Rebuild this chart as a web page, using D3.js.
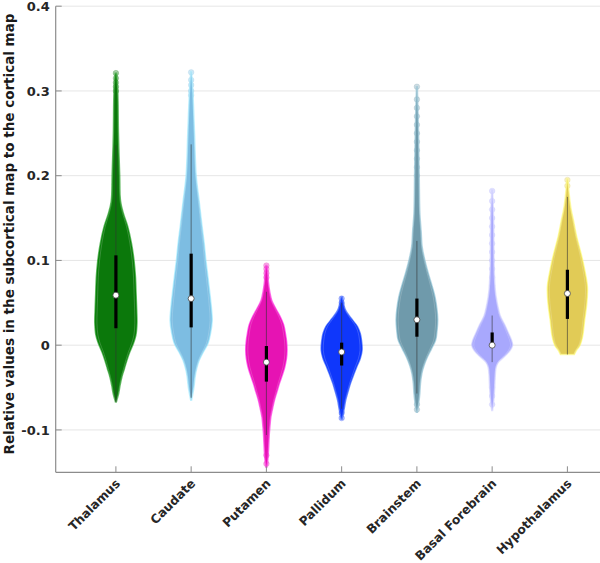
<!DOCTYPE html>
<html><head><meta charset="utf-8">
<script src="https://cdn.jsdelivr.net/npm/d3@7"></script>
<style>html,body{margin:0;padding:0;background:#fff;}svg{display:block;font-family:"DejaVu Sans",sans-serif;}</style>
</head><body><svg id="chart" width="600" height="563"></svg>
<script>
const categories = ["Thalamus","Caudate","Putamen","Pallidum","Brainstem","Basal Forebrain","Hypothalamus"];
const colors = ["#0b780b","#7dbde2","#e613b3","#0f37fb","#6f9aab","#a8a8fd","#e1cb56"];
const yTicks = [-0.1, 0, 0.1, 0.2, 0.3, 0.4];
const yTickLabels = ["-0.1","0","0.1","0.2","0.3","0.4"];
const medians = [0.059, 0.055, -0.020, -0.008, 0.030, 0.000, 0.061];
const q1 = [0.020, 0.021, -0.043, -0.024, 0.010, 0.000, 0.031];
const q3 = [0.106, 0.108, -0.001, 0.003, 0.055, 0.015, 0.089];
const whiskerLo = [-0.067, -0.062, -0.106, -0.075, -0.057, -0.020, -0.011];
const whiskerHi = [0.236, 0.237, 0.063, 0.050, 0.123, 0.035, 0.175];
// density profiles: [value, relative density]
const profiles = [
 [[0.321,0.03],[0.30,0.09],[0.25,0.12],[0.2,0.18],[0.17,0.22],[0.155,0.36],[0.14,0.56],[0.12,0.74],[0.1,0.86],[0.08,0.93],[0.06,0.96],[0.04,0.99],[0.026,1.0],[0.012,0.95],[0.002,0.83],[-0.008,0.66],[-0.018,0.52],[-0.028,0.4],[-0.037,0.29],[-0.047,0.2],[-0.057,0.13],[-0.067,0.02]],
 [[0.323,0.02],[0.30,0.08],[0.25,0.16],[0.2,0.24],[0.17,0.38],[0.14,0.52],[0.12,0.62],[0.1,0.7],[0.08,0.8],[0.061,0.89],[0.045,0.96],[0.029,1.0],[0.015,0.93],[0.002,0.8],[-0.008,0.58],[-0.018,0.38],[-0.028,0.26],[-0.037,0.19],[-0.05,0.13],[-0.065,0.02]],
 [[0.094,0.02],[0.085,0.06],[0.073,0.1],[0.063,0.16],[0.053,0.25],[0.043,0.45],[0.033,0.67],[0.024,0.82],[0.014,0.9],[0.004,0.96],[-0.006,0.98],[-0.016,0.95],[-0.026,0.87],[-0.035,0.76],[-0.045,0.62],[-0.055,0.5],[-0.065,0.38],[-0.075,0.29],[-0.085,0.21],[-0.095,0.17],[-0.104,0.14],[-0.124,0.1],[-0.135,0.07],[-0.144,0.02]],
 [[0.057,0.02],[0.05,0.08],[0.041,0.19],[0.032,0.44],[0.022,0.75],[0.014,0.88],[0.006,0.94],[-0.006,0.97],[-0.016,0.88],[-0.026,0.71],[-0.035,0.57],[-0.045,0.42],[-0.055,0.3],[-0.065,0.19],[-0.075,0.12],[-0.087,0.02]],
 [[0.305,0.02],[0.25,0.08],[0.2,0.11],[0.156,0.14],[0.135,0.2],[0.116,0.25],[0.1,0.38],[0.085,0.54],[0.07,0.72],[0.057,0.86],[0.043,0.95],[0.03,0.99],[0.018,0.96],[0.006,0.89],[-0.004,0.7],[-0.014,0.5],[-0.024,0.34],[-0.033,0.24],[-0.045,0.17],[-0.057,0.14],[-0.068,0.09],[-0.079,0.02]],
 [[0.183,0.02],[0.15,0.07],[0.1,0.09],[0.081,0.11],[0.065,0.15],[0.057,0.19],[0.045,0.28],[0.035,0.38],[0.024,0.6],[0.014,0.78],[0.006,0.92],[0,0.97],[-0.006,0.86],[-0.014,0.56],[-0.02,0.3],[-0.026,0.19],[-0.035,0.15],[-0.05,0.12],[-0.065,0.08],[-0.077,0.02]],
 [[0.196,0.02],[0.185,0.06],[0.175,0.1],[0.16,0.18],[0.148,0.28],[0.128,0.44],[0.108,0.65],[0.089,0.82],[0.069,0.95],[0.049,0.92],[0.03,0.82],[0.01,0.72],[0.0,0.6],[-0.006,0.43],[-0.011,0.33]]
];
const outliers = [
 [0.300,0.305,0.310,0.315,0.321],
 [0.295,0.300,0.307,0.313,0.322],
 [0.080,0.085,0.090,0.094,-0.130,-0.140],
 [0.050,0.055,-0.080,-0.086],
 [0.200,0.210,0.220,0.230,0.240,0.250,0.260,0.270,0.280,0.290,0.305,-0.070,-0.076],
 [0.060,0.070,0.080,0.090,0.100,0.110,0.120,0.130,0.140,0.150,0.160,0.170,0.182,-0.030,-0.040,-0.050,-0.060,-0.070],
 [0.188,0.195]
];
const yLabel = "Relative values in the subcortical map to the cortical map";

const svg = d3.select("#chart");
const x = d3.scaleLinear().domain([0.2, 7.8]).range([55.7, 627.6]);
const y = d3.scaleLinear().domain([-0.15, 0.4]).range([472.3, 6.2]);
const wScale = d3.scaleLinear().domain([0, 1]).range([0, 0.28]); // in x-units

// gridlines
svg.append("g").selectAll("line").data(yTicks).join("line")
  .attr("x1", x(0.2)).attr("x2", 600)
  .attr("y1", d => y(d)).attr("y2", d => y(d))
  .attr("stroke", "#e6e6e6").attr("stroke-width", 1);

// violins
const g = svg.append("g");
categories.forEach((c, i) => {
  const cx = i + 1;
  const area = d3.area()
    .y(d => y(d[0]))
    .x0(d => x(cx - wScale(d[1])))
    .x1(d => x(cx + wScale(d[1])))
    .curve(d3.curveCatmullRom);
  const col = colors[i];
  g.append("g").selectAll("circle").data(outliers[i]).join("circle")
    .attr("cx", x(cx)).attr("cy", d => y(d)).attr("r", 2.8)
    .attr("fill", col).attr("fill-opacity", 0.35)
    .attr("stroke", col).attr("stroke-opacity", 0.2);
  g.append("path").datum(profiles[i]).attr("d", area)
    .attr("fill", col)
    .attr("stroke", d3.color(col).brighter(0.6)).attr("stroke-opacity", 0.6).attr("stroke-width", 1.5);
  const inner = d3.area()
    .y(d => y(d[0]))
    .x0(d => x(cx - wScale(d[1]) * 0.9))
    .x1(d => x(cx + wScale(d[1]) * 0.9))
    .curve(d3.curveCatmullRom);
  g.append("path").datum(profiles[i]).attr("d", inner)
    .attr("fill", "none").attr("stroke", "#ffffff").attr("stroke-opacity", 0.18).attr("stroke-width", 1);
  g.append("line").attr("x1", x(cx)).attr("x2", x(cx))
    .attr("y1", y(whiskerHi[i])).attr("y2", y(whiskerLo[i]))
    .attr("stroke", "#333").attr("stroke-opacity", 0.75).attr("stroke-width", 0.8);
  g.append("rect").attr("x", x(cx) - 1.6).attr("width", 3.2)
    .attr("y", y(q3[i])).attr("height", Math.max(0.5, y(q1[i]) - y(q3[i])))
    .attr("fill", "#000");
  g.append("circle").attr("cx", x(cx)).attr("cy", y(medians[i])).attr("r", 3)
    .attr("fill", "#fff").attr("stroke", "#444").attr("stroke-width", 0.8);
});

// axes
const axisCol = "#8c8c8c";
svg.append("line").attr("x1", x(0.2)).attr("x2", x(0.2)).attr("y1", y(0.4)).attr("y2", y(-0.15))
  .attr("stroke", axisCol).attr("stroke-width", 1.2);
svg.append("line").attr("x1", x(0.2)).attr("x2", 600).attr("y1", y(-0.15)).attr("y2", y(-0.15))
  .attr("stroke", axisCol).attr("stroke-width", 1.2);
svg.append("g").selectAll("line").data(yTicks).join("line")
  .attr("x1", x(0.2)).attr("x2", x(0.2) + 6)
  .attr("y1", d => y(d)).attr("y2", d => y(d)).attr("stroke", axisCol);
svg.append("g").selectAll("line").data(categories).join("line")
  .attr("x1", (d, i) => x(i + 1)).attr("x2", (d, i) => x(i + 1))
  .attr("y1", y(-0.15)).attr("y2", y(-0.15) - 6).attr("stroke", axisCol);

svg.append("g").selectAll("text").data(yTicks).join("text")
  .attr("x", x(0.2) - 6).attr("y", d => y(d)).attr("dy", "0.36em")
  .attr("text-anchor", "end").attr("font-size", 13).attr("font-weight", "bold").attr("fill", "#262626")
  .text((d, i) => yTickLabels[i]);

svg.append("g").selectAll("text").data(categories).join("text")
  .attr("transform", (d, i) => `translate(${x(i + 1) + 5},${y(-0.15) + 12}) rotate(-45)`)
  .attr("text-anchor", "end").attr("font-size", 12.3).attr("font-weight", "bold").attr("fill", "#262626")
  .text(d => d);

svg.append("text")
  .attr("transform", `translate(13.5,${234}) rotate(-90)`)
  .attr("text-anchor", "middle").attr("font-size", 13.5).attr("font-weight", "bold").attr("fill", "#1a1a1a")
  .text(yLabel);
</script></body></html>
